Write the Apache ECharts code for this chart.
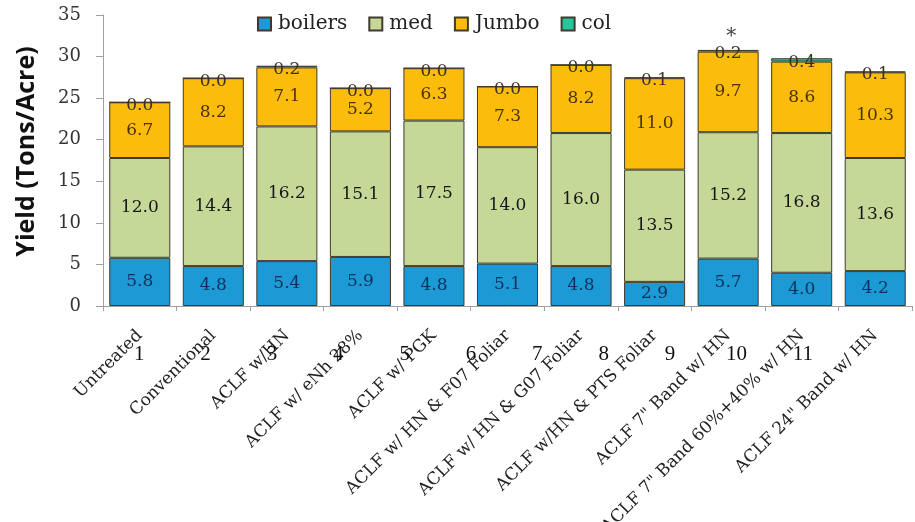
<!DOCTYPE html>
<html>
<head>
<meta charset="utf-8">
<script src="https://cdn.jsdelivr.net/npm/echarts@6/dist/echarts.min.js"></script>
<style>
  html, body { margin: 0; padding: 0; background: #fff; }
  #chart { width: 915px; height: 522px; }
</style>
</head>
<body>
<div id="chart"></div>
<script>
// Treatments and yield components (tons per acre)
const treatments = [
  'Untreated', 'Conventional', 'ACLF w/HN', 'ACLF w/ eNh 28%', 'ACLF w/ PGK',
  'ACLF w/ HN & F07 Foliar', 'ACLF w/ HN & G07 Foliar', 'ACLF w/HN & PTS Foliar',
  'ACLF 7" Band w/ HN', 'ACLF 7" Band 60%+40% w/ HN', 'ACLF 24" Band w/ HN'
];
const treatmentNumbers = ['1', '2', '3', '4', '5', '6', '7', '8', '9', '10', '11'];
const boilers = [5.8, 4.8, 5.4, 5.9, 4.8, 5.1, 4.8, 2.9, 5.7, 4.0, 4.2];
const med     = [12.0, 14.4, 16.2, 15.1, 17.5, 14.0, 16.0, 13.5, 15.2, 16.8, 13.6];
const jumbo   = [6.7, 8.2, 7.1, 5.2, 6.3, 7.3, 8.2, 11.0, 9.7, 8.6, 10.3];
const col     = [0.0, 0.0, 0.2, 0.0, 0.0, 0.0, 0.0, 0.1, 0.2, 0.4, 0.1];
// treatment flagged with an asterisk
const flagged = 8;

const serif = 'DejaVu Serif';
const edge = { borderColor: '#3f3a2c', borderWidth: 1 };

function stackSeries(name, data, color, labelColor, labelExtra) {
  return {
    name: name,
    type: 'bar',
    stack: 'yield',
    data: data,
    barCategoryGap: '17%',
    itemStyle: Object.assign({ color: color }, edge),
    label: Object.assign({
      show: true,
      position: 'inside',
      fontFamily: serif,
      fontSize: 17,
      color: labelColor,
      formatter: p => p.value.toFixed(1)
    }, labelExtra || {})
  };
}

const totals = treatments.map((_, i) => boilers[i] + med[i] + jumbo[i] + col[i]);

const colSeries = stackSeries('col', col, '#22c79c', '#3a3222', { offset: [0, 3] });
colSeries.markPoint = {
  symbol: 'circle',
  symbolSize: 0,
  data: [{ coord: [flagged, totals[flagged]] }],
  label: {
    show: true,
    formatter: '*',
    offset: [3, -13],
    fontFamily: serif,
    fontSize: 20,
    color: '#444'
  }
};

const chart = echarts.init(document.getElementById('chart'));
chart.setOption({
  backgroundColor: '#fff',
  animation: false,
  legend: {
    top: 9,
    left: 252,
    icon: 'rect',
    itemWidth: 13,
    itemHeight: 13,
    itemGap: 21,
    textStyle: { fontFamily: serif, fontSize: 20, color: '#222', padding: [0, 0, 0, 2] },
    data: ['boilers', 'med', 'Jumbo', 'col']
  },
  grid: [
    { left: 103, right: 3, top: 15, bottom: 216, outerBoundsMode: 'none' },
    { left: 106, width: 730, top: 335, height: 1, outerBoundsMode: 'none' }
  ],
  xAxis: [
    {
      type: 'category',
      gridIndex: 0,
      data: treatments,
      axisLine: { lineStyle: { color: '#a0a0a0' } },
      axisTick: { show: true, length: 5, lineStyle: { color: '#a0a0a0' } },
      axisLabel: {
        interval: 0,
        rotate: 45,
        margin: 27,
        verticalAlign: 'middle',
        fontFamily: serif,
        fontSize: 17,
        color: '#222'
      }
    },
    {
      type: 'category',
      gridIndex: 1,
      data: treatmentNumbers,
      axisLine: { show: false },
      axisTick: { show: false },
      axisLabel: {
        interval: 0,
        margin: 8,
        fontFamily: 'Liberation Serif',
        fontSize: 21,
        color: '#111'
      }
    }
  ],
  yAxis: [
    {
      type: 'value',
      gridIndex: 0,
      min: 0,
      max: 35,
      interval: 5,
      name: 'Yield (Tons/Acre)',
      nameLocation: 'middle',
      nameGap: 64,
      nameTextStyle: {
        fontFamily: 'Open Sans',
        fontWeight: 'bold',
        fontSize: 25,
        color: '#111',
        padding: [0, 0, 0, 18]
      },
      axisLine: { show: true, lineStyle: { color: '#a0a0a0' } },
      axisTick: { show: true, length: 7, lineStyle: { color: '#a0a0a0' } },
      splitLine: { show: false },
      axisLabel: {
        margin: 22,
        fontFamily: serif,
        fontSize: 18,
        color: '#333'
      }
    },
    { type: 'value', gridIndex: 1, show: false }
  ],
  series: [
    stackSeries('boilers', boilers, '#1b9ad6', '#10305a'),
    stackSeries('med', med, '#c6d898', '#161616'),
    stackSeries('Jumbo', jumbo, '#fbbc0c', '#4a3300'),
    colSeries
  ]
});
</script>
</body>
</html>
